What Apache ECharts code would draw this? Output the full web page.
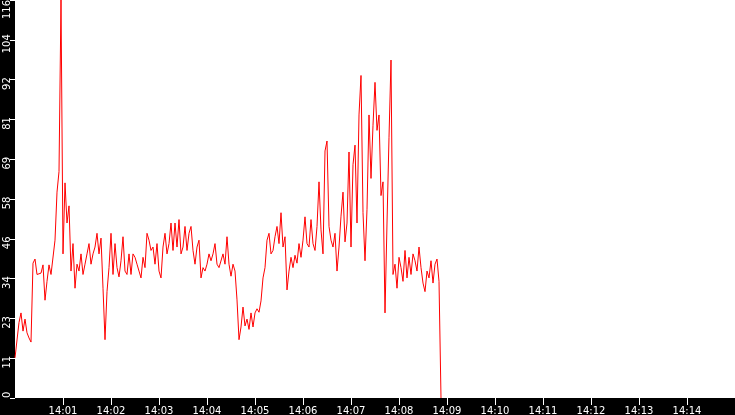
<!DOCTYPE html>
<html>
<head>
<meta charset="utf-8">
<style>
  html, body { margin: 0; padding: 0; background: #000; }
  #chart { width: 735px; height: 415px; }
</style>
<script src="https://cdn.jsdelivr.net/npm/echarts@6.0.0/dist/echarts.min.js"></script>
</head>
<body>
<div id="chart"></div>
<script>
// samples start at 14:00:00, one every 2.5 s
var startTime = '14:00:00';
var stepSeconds = 2.5;
var values = [
  11.7, 16.9, 22, 24.8, 19.5, 23, 19, 17.5, 16.3, 39.3,
  40.5, 36, 35.5, 36.4, 38.8, 28.5, 34, 38.8, 36, 35.5,
  46, 60, 66, 116, 42, 62.7, 51, 56, 37, 45,
  32, 39, 37, 42, 36, 39, 42, 45, 39, 42,
  44, 48, 42, 46.6, 32, 17, 31, 38, 48, 36,
  45, 38, 35.3, 40, 47, 37, 36, 42, 36, 42,
  41, 39, 37, 35, 41, 38, 48, 46, 43, 44,
  39, 45, 37, 35, 44, 48, 42, 45, 51, 43,
  51, 44, 52, 42, 44, 50, 43, 48, 50, 43,
  39, 44, 46, 35, 38, 37, 39, 42, 40, 42,
  45, 39, 38, 38.5, 42, 39, 47, 39, 35.5, 39,
  37, 28.6, 17, 20.7, 26.5, 21, 23, 20, 24.8, 20.7,
  24.8, 26, 25, 28.3, 35, 38, 46, 48, 42, 43,
  47, 50, 45, 54, 44, 47, 31.5, 37, 41, 38,
  41.6, 39.3, 45, 41, 46, 52.8, 45, 44, 52, 45,
  43, 50, 63, 49, 42, 72, 74.9, 50, 46, 44,
  48, 37, 44, 53, 60, 45.5, 51, 71.7, 44, 68,
  73.7, 51, 82.5, 94, 54, 40, 55, 82.5, 64, 79.5,
  92, 78, 82.5, 59, 63, 24.8, 51, 76, 98.5, 36,
  39, 32, 41, 38, 34, 43, 35, 41, 36, 42,
  40, 37, 44, 38, 33.5, 31, 37, 35, 40, 33.5,
  39, 40.5, 34, 0
];
var xTickSeconds = [60, 120, 180, 240, 300, 360, 420, 480, 540, 600, 660, 720, 780, 840];
var xTickLabels = ['14:01', '14:02', '14:03', '14:04', '14:05', '14:06', '14:07',
                   '14:08', '14:09', '14:10', '14:11', '14:12', '14:13', '14:14'];
var yTickLabels = ['0', '11', '23', '34', '46', '58', '69', '81', '92', '104', '116'];

var chart = echarts.init(document.getElementById('chart'));

var seriesData = values.map(function(v, i) { return [i * stepSeconds, v]; });

chart.setOption({
  animation: false,
  backgroundColor: '#000',
  grid: {
    left: 15, right: 0, top: 0, bottom: 17,
    outerBoundsMode: 'none',
    show: true, backgroundColor: '#fff', borderWidth: 0
  },
  xAxis: {
    type: 'value',
    min: 0,
    max: 900,
    interval: 60,
    axisLine: { show: false },
    splitLine: { show: false },
    axisTick: { length: 7, customValues: xTickSeconds, lineStyle: { color: '#fff' } },
    axisLabel: {
      customValues: xTickSeconds,
      color: '#fff',
      fontFamily: 'DejaVu Sans',
      fontSize: 10,
      margin: 8,
      formatter: function(v) { return xTickLabels[xTickSeconds.indexOf(v)]; }
    }
  },
  yAxis: {
    type: 'value',
    min: 0,
    max: 116,
    interval: 11.6,
    axisLine: { show: false },
    splitLine: { show: false },
    axisTick: { length: 5, lineStyle: { color: '#fff' } },
    axisLabel: {
      rotate: 90,
      color: '#fff',
      fontFamily: 'DejaVu Sans',
      fontSize: 10,
      margin: 3,
      alignMinLabel: 'left',
      alignMaxLabel: 'right',
      formatter: function(v) {
        var i = Math.round(v / 11.6);
        // inner labels sit a little below their tick
        if (i === 0 || i === yTickLabels.length - 1) return yTickLabels[i];
        return '{m|' + yTickLabels[i] + '}';
      },
      rich: {
        m: { color: '#fff', fontFamily: 'DejaVu Sans', fontSize: 10, padding: [0, 8, 0, 0] }
      }
    }
  },
  series: [{
    type: 'line',
    data: seriesData,
    symbol: 'none',
    lineStyle: { color: '#ff0000', width: 1 }
  }]
});
window.addEventListener('resize', function() { chart.resize(); });
</script>
</body>
</html>
